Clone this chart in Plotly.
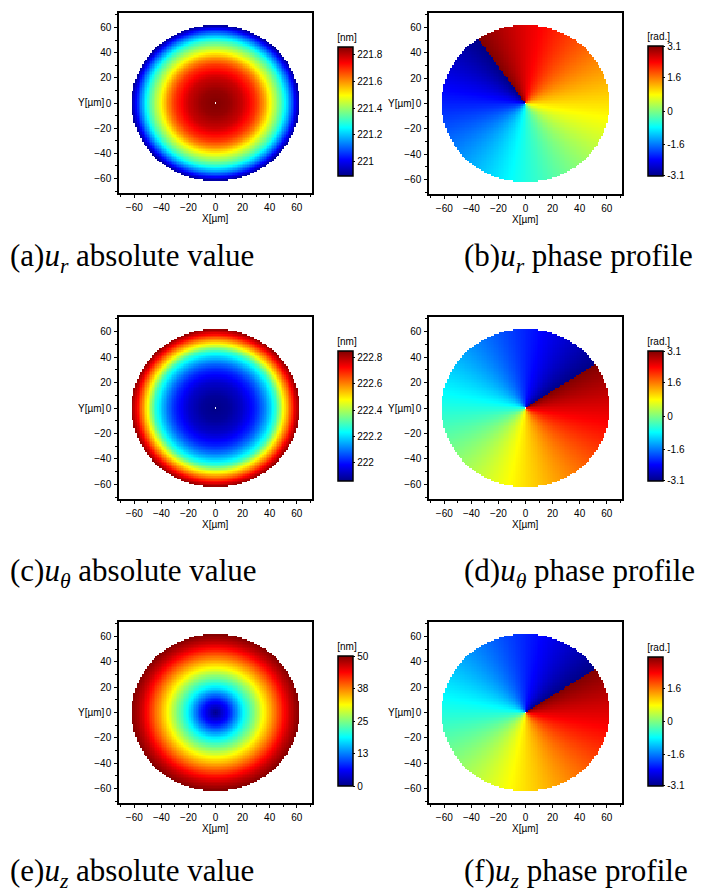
import numpy as np
import plotly.graph_objects as go

W, H = 705, 893

# ---- data ----
# radial sample positions (µm) of the magnitude profiles
radius_um = [0, 10, 20, 30, 35, 40, 45, 50, 55, 58, 62]
ur_abs_nm = [221.86, 221.84, 221.79, 221.69, 221.61, 221.50, 221.40, 221.29, 221.14, 221.04, 220.90]
utheta_abs_nm = [221.86, 221.88, 221.93, 222.02, 222.09, 222.18, 222.29, 222.47, 222.63, 222.73, 222.84]
uz_abs_nm = [0, 7.5, 18, 26.5, 31, 35, 39, 43, 46.5, 48, 50]

# direction (deg) of the phase jump line in the phase profiles
ur_phase_cut_deg = 124.4
utheta_phase_cut_deg = 33.7
uz_phase_cut_deg = 33.7

disk_radius_um = 62
grid_step_um = 1.25

axis_tick_vals = [-60, -40, -20, 0, 20, 40, 60]

ur_abs_range = [220.89, 221.86]
ur_abs_ticks = [221, 221.2, 221.4, 221.6, 221.8]
ut_abs_range = [221.86, 222.85]
ut_abs_ticks = [222, 222.2, 222.4, 222.6, 222.8]
uz_abs_range = [0, 50]
uz_abs_tickvals = [0, 12.5, 25, 37.5, 50]
uz_abs_ticktext = ["0", "13", "25", "38", "50"]
phase_range = [-3.1416, 3.1416]
phase_ticks = [-3.1, -1.6, 0, 1.6, 3.1]
phase_ticks_f = [-3.1, -1.6, 0, 1.6]

captions = [
    "(a)<i>u<sub>r</sub></i> absolute value",
    "(b)<i>u<sub>r</sub></i> phase profile",
    "(c)<i>u<sub>θ</sub></i> absolute value",
    "(d)<i>u<sub>θ</sub></i> phase profile",
    "(e)<i>u<sub>z</sub></i> absolute value",
    "(f)<i>u<sub>z</sub></i> phase profile",
]

JET = [[0.0, "rgb(0,0,135)"], [0.125, "rgb(0,0,255)"], [0.375, "rgb(0,255,255)"],
       [0.625, "rgb(255,255,0)"], [0.875, "rgb(255,0,0)"], [1.0, "rgb(128,0,0)"]]

# ---- grid ----
n = int(round(disk_radius_um / grid_step_um))
g = np.arange(-n, n + 1) * grid_step_um
X, Y = np.meshgrid(g, g)
R = np.hypot(X, Y)
TH = np.degrees(np.arctan2(Y, X))
outside = R > disk_radius_um


def magnitude(profile, hole=True):
    z = np.interp(R, radius_um, profile)
    z[outside] = np.nan
    if hole:
        z[R == 0] = np.nan
    return z


def phase(cut):
    a = np.radians(TH - cut + 180.0)
    z = np.angle(np.exp(1j * a))
    z[outside] = np.nan
    z[R == 0] = np.nan
    return z


fields = [
    magnitude(ur_abs_nm),
    phase(ur_phase_cut_deg),
    magnitude(utheta_abs_nm),
    phase(utheta_phase_cut_deg),
    magnitude(uz_abs_nm, hole=False),
    phase(uz_phase_cut_deg),
]

ranges = [ur_abs_range, phase_range, ut_abs_range, phase_range, uz_abs_range, phase_range]
tickv = [ur_abs_ticks, phase_ticks, ut_abs_ticks, phase_ticks, uz_abs_tickvals, phase_ticks_f]
tickt = [[f"{v:g}" for v in ur_abs_ticks], [f"{v:g}" for v in phase_ticks],
         [f"{v:g}" for v in ut_abs_ticks], [f"{v:g}" for v in phase_ticks],
         uz_abs_ticktext, [f"{v:g}" for v in phase_ticks_f]]
units = ["[nm]", "[rad.]", "[nm]", "[rad.]", "[nm]", "[rad.]"]

# pixel layout: plot box (x0, x1, y0, y1), colorbar box (x0, y0, y1)
boxes = [
    (119, 312, 13, 193), (429, 622, 13, 194),
    (119, 312, 317, 499), (429, 622, 317, 499),
    (119, 312, 622, 803), (429, 622, 622, 803),
]
cbars = [
    (338, 31, 176), (648, 30, 176),
    (338, 335, 481), (648, 335, 481),
    (338, 640, 786), (648, 641, 786),
]
caption_pos = [(8, 258), (462, 258), (8, 573), (462, 573), (8, 873), (462, 873)]

NARROW = "Liberation Sans Narrow, Arial Narrow, Liberation Sans, sans-serif"
SERIF = "Liberation Serif, Times New Roman, serif"

fig = go.Figure()
annotations = []
layout = {}

for i in range(6):
    k = "" if i == 0 else str(i + 1)
    x0, x1, y0, y1 = boxes[i]
    cx, cy0, cy1 = cbars[i]
    fig.add_trace(go.Heatmap(
        x=g, y=g, z=fields[i],
        colorscale=JET, zmin=ranges[i][0], zmax=ranges[i][1],
        zsmooth=False, hoverongaps=False,
        xaxis="x" + k, yaxis="y" + k,
        colorbar=dict(
            x=cx / W, xanchor="left", xpad=0,
            y=1 - (cy0 + cy1) / 2 / H, yanchor="middle", ypad=0,
            len=cy1 - cy0, lenmode="pixels",
            thickness=15, thicknessmode="pixels",
            outlinewidth=1.5, outlinecolor="black",
            tickvals=tickv[i], ticktext=tickt[i],
            ticks="outside", ticklen=2, tickcolor="black",
            tickfont=dict(family=NARROW, size=10, color="black"),
            title=dict(text=units[i], side="top",
                       font=dict(family=NARROW, size=10, color="black")),
        ),
    ))
    common = dict(
        showline=True, linecolor="black", linewidth=1.5, mirror=True,
        ticks="outside", ticklen=3, tickcolor="black",
        tickvals=axis_tick_vals,
        tickfont=dict(family=NARROW, size=10, color="black"),
        showgrid=False, zeroline=False, ticklabelstandoff=1,
        minor=dict(ticks="outside", ticklen=2, dtick=10, tickcolor="black"),
    )
    layout["xaxis" + k] = dict(common, domain=[x0 / W, x1 / W], range=[-71.3, 71.3],
                               anchor="y" + k)
    layout["yaxis" + k] = dict(common, domain=[1 - y1 / H, 1 - y0 / H], range=[-71.5, 71.5],
                               anchor="x" + k)
    annotations.append(dict(
        text="X[µm]", x=(x0 + x1) / 2 / W, y=1 - (y1 + 25) / H,
        xref="paper", yref="paper", xanchor="center", yanchor="middle",
        showarrow=False, font=dict(family=NARROW, size=10, color="black")))
    annotations.append(dict(
        text="Y[µm]", x=(x0 - 12) / W, y=1 - (y0 + y1) / 2 / H,
        xref="paper", yref="paper", xanchor="right", yanchor="middle",
        showarrow=False, font=dict(family=NARROW, size=10, color="black")))
    px, py = caption_pos[i]
    annotations.append(dict(
        text=captions[i], x=px / W, y=1 - py / H,
        xref="paper", yref="paper", xanchor="left", yanchor="middle",
        showarrow=False, font=dict(family=SERIF, size=31, color="black")))

fig.update_layout(
    width=W, height=H, margin=dict(l=0, r=0, t=0, b=0),
    paper_bgcolor="white", plot_bgcolor="white",
    showlegend=False, annotations=annotations, **layout,
)

fig.write_html("out.html")
